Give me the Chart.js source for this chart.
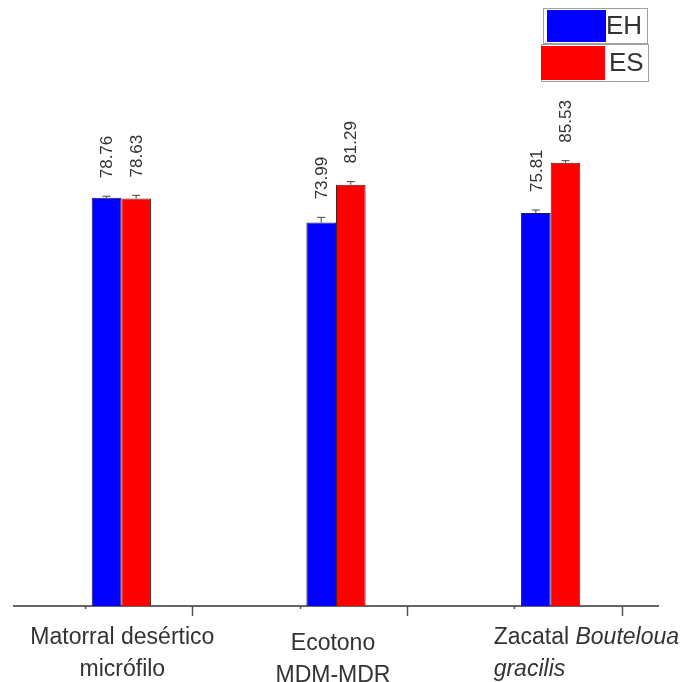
<!DOCTYPE html>
<html>
<head>
<meta charset="utf-8">
<script src="https://cdn.jsdelivr.net/npm/chart.js@4/dist/chart.umd.min.js"></script>
<style>
  html, body { margin: 0; padding: 0; background: #fff; }
  #wrap { width: 680px; height: 682px; }
</style>
</head>
<body>
<div id="wrap"><canvas id="c" width="680" height="682"></canvas></div>
<script>
// Vegetation types (two-line labels); words set in italics are listed separately
const categories = [
  ["Matorral desértico", "micrófilo"],
  ["Ecotono", "MDM-MDR"],
  ["Zacatal Bouteloua", "gracilis"]
];
const italicWords = ["Bouteloua", "gracilis"];

const seriesNames = ["EH", "ES"];
const ehValues = [78.76, 73.99, 75.81];
const esValues = [78.63, 81.29, 85.53];
const ehErrors = [0.3, 1.0, 0.6];
const esErrors = [0.6, 0.6, 0.4];

const FONT = "'Liberation Sans', Arial, sans-serif";
const TEXT = '#333333';

// Error whiskers (upper half) and rotated value labels above each bar
const barAnnotations = {
  id: 'barAnnotations',
  afterDatasetsDraw(chart) {
    const ctx = chart.ctx;
    const y = chart.scales.y;
    chart.data.datasets.forEach((ds, di) => {
      const meta = chart.getDatasetMeta(di);
      meta.data.forEach((bar, i) => {
        const v = ds.data[i];
        const e = ds.errors[i];
        const top = y.getPixelForValue(v + e);
        ctx.save();
        ctx.strokeStyle = '#444';
        ctx.lineWidth = 1;
        ctx.beginPath();
        ctx.moveTo(bar.x, bar.y);
        ctx.lineTo(bar.x, top);
        ctx.moveTo(bar.x - 4, top);
        ctx.lineTo(bar.x + 4, top);
        ctx.stroke();
        ctx.translate(bar.x, top - 18);
        ctx.rotate(-Math.PI / 2);
        ctx.fillStyle = TEXT;
        ctx.font = '17px ' + FONT;
        ctx.textAlign = 'left';
        ctx.textBaseline = 'middle';
        ctx.fillText(v.toFixed(2), 0, 1);
        ctx.restore();
      });
    });
  }
};

// Short and long tick marks hanging below the category axis
const axisMarks = {
  id: 'axisMarks',
  afterDraw(chart, args, opts) {
    const ctx = chart.ctx;
    const x = chart.scales.x;
    const n = chart.data.labels.length;
    const w = x.width / n;
    const yb = chart.chartArea.bottom;
    ctx.save();
    ctx.strokeStyle = '#555';
    ctx.lineWidth = 1.5;
    for (let i = 0; i < n; i++) {
      const c = x.getPixelForValue(i);
      opts.marks.forEach(m => {
        const px = Math.round(c + m.at * w) + 0.5;
        ctx.beginPath();
        ctx.moveTo(px, yb);
        ctx.lineTo(px, yb + m.len);
        ctx.stroke();
      });
    }
    ctx.restore();
  }
};

// Category names under the axis, with italic genus/species words
const categoryText = {
  id: 'categoryText',
  afterDraw(chart, args, opts) {
    const ctx = chart.ctx;
    const x = chart.scales.x;
    const yb = chart.chartArea.bottom;
    const size = opts.size;
    const fontFor = word => (italicWords.includes(word) ? 'italic ' : '') + size + 'px ' + FONT;
    chart.data.labels.forEach((lines, i) => {
      const lay = opts.layout[i];
      const c = x.getPixelForValue(i) + lay.dx;
      lines.forEach((line, li) => {
        const words = line.split(' ');
        ctx.font = size + 'px ' + FONT;
        const space = ctx.measureText(' ').width;
        const widths = words.map(wd => { ctx.font = fontFor(wd); return ctx.measureText(wd).width; });
        const total = widths.reduce((a, b) => a + b, 0) + space * (words.length - 1);
        let px = lay.align === 'left' ? c : c - total / 2;
        const py = yb + lay.lines[li];
        ctx.save();
        ctx.fillStyle = TEXT;
        ctx.textBaseline = 'middle';
        ctx.textAlign = 'left';
        words.forEach((wd, wi) => {
          ctx.font = fontFor(wd);
          ctx.fillText(wd, px, py);
          px += widths[wi] + space;
        });
        ctx.restore();
      });
    });
  }
};

// Boxed legend in the top-right corner
const boxLegend = {
  id: 'boxLegend',
  afterDraw(chart, args, opts) {
    const ctx = chart.ctx;
    chart.data.datasets.forEach((ds, i) => {
      const r = opts.rows[i];
      ctx.save();
      ctx.fillStyle = '#fff';
      ctx.fillRect(r.x, r.y, r.w, r.h);
      ctx.strokeStyle = '#a0a0a0';
      ctx.lineWidth = 1;
      ctx.strokeRect(r.x + 0.5, r.y + 0.5, r.w, r.h);
      ctx.fillStyle = ds.backgroundColor;
      ctx.fillRect(r.sx, r.y + 2, r.sw, r.h - 3);
      ctx.fillStyle = TEXT;
      ctx.font = opts.size + 'px ' + FONT;
      ctx.textBaseline = 'middle';
      ctx.textAlign = 'left';
      ctx.fillText(ds.label, r.tx, r.y + r.h / 2 + 1);
      ctx.restore();
    });
  }
};

new Chart(document.getElementById('c'), {
  type: 'bar',
  data: {
    labels: categories,
    datasets: [
      { label: seriesNames[0], data: ehValues, errors: ehErrors,
        backgroundColor: '#0000ff', borderColor: '#1a1a5a', borderWidth: 1,
        categoryPercentage: 0.276, barPercentage: 1.0 },
      { label: seriesNames[1], data: esValues, errors: esErrors,
        backgroundColor: '#ff0000', borderColor: '#5a1a1a', borderWidth: 1,
        categoryPercentage: 0.276, barPercentage: 1.0 }
    ]
  },
  options: {
    responsive: false,
    devicePixelRatio: 1,
    animation: false,
    layout: { padding: { top: 10, left: 14, right: 22, bottom: 76 } },
    scales: {
      x: {
        display: true,
        grid: { display: false, drawTicks: false },
        border: { display: true, color: '#666', width: 2 },
        ticks: { display: false }
      },
      y: { display: false, min: 0, max: 115 }
    },
    plugins: {
      legend: { display: false },
      tooltip: { enabled: false },
      axisMarks: { marks: [ { at: -0.17, len: 3 }, { at: 0.33, len: 10 } ] },
      categoryText: {
        size: 23,
        layout: [
          { dx: 1, align: 'center', lines: [32, 64] },
          { dx: -3, align: 'center', lines: [38, 70] },
          { dx: -57, align: 'left', lines: [32, 64] }
        ]
      },
      boxLegend: {
        size: 26,
        rows: [
          { x: 543, y: 8, w: 104, h: 35, sx: 547, sw: 59, tx: 606 },
          { x: 541, y: 44, w: 107, h: 37, sx: 541, sw: 64, tx: 609 }
        ]
      }
    }
  },
  plugins: [barAnnotations, axisMarks, categoryText, boxLegend]
});
</script>
</body>
</html>
